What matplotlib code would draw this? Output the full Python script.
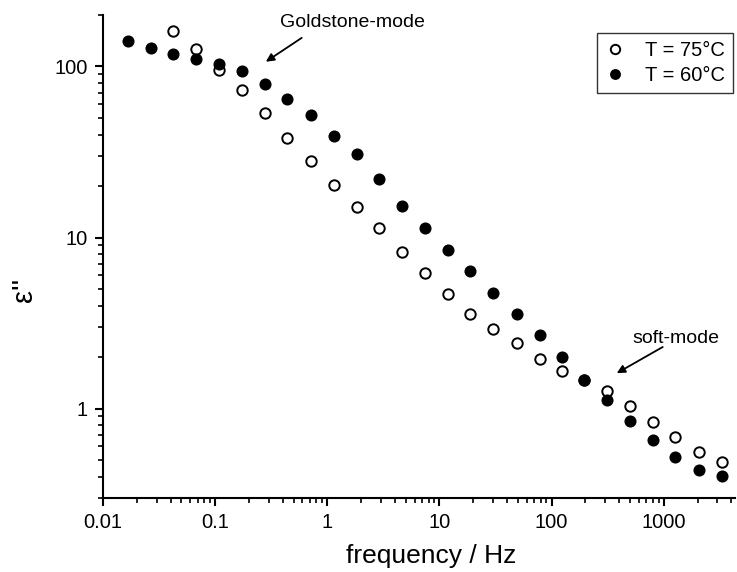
import matplotlib
matplotlib.use("Agg")
import matplotlib.pyplot as plt
import matplotlib.ticker as ticker

plt.rcParams.update({
    "font.family": ["Liberation Sans", "DejaVu Sans"],
    "font.size": 14,
    "axes.linewidth": 1.5,
    "xtick.direction": "out", "ytick.direction": "out",
    "xtick.major.size": 6, "ytick.major.size": 6,
    "xtick.minor.size": 3.5, "ytick.minor.size": 3.5,
    "xtick.major.width": 1.5, "ytick.major.width": 1.5,
    "xtick.minor.width": 1.2, "ytick.minor.width": 1.2,
})

# frequency (Hz) and eps''
FREQ_60 = [0.0166, 0.0266, 0.042, 0.068, 0.108, 0.172, 0.277, 0.44, 0.71,
           1.14, 1.83, 2.9, 4.6, 7.4, 11.8, 18.9, 30, 49, 78, 123, 194,
           310, 500, 800, 1250, 2050, 3290]
EPS_60 = [141, 129, 119, 110, 104, 94.4, 79.2, 64.7, 52.2, 39.4, 30.8, 22.1,
          15.3, 11.4, 8.45, 6.34, 4.75, 3.58, 2.69, 2.00, 1.46, 1.12, 0.843,
          0.652, 0.518, 0.435, 0.401]

FREQ_75 = [0.042, 0.068, 0.108, 0.172, 0.277, 0.44, 0.71, 1.14, 1.83, 2.9,
           4.6, 7.4, 11.8, 18.9, 30, 49, 78, 123, 194, 310, 500, 800, 1250,
           2050, 3290]
EPS_75 = [162, 127, 95.7, 73.1, 53.6, 38.3, 28.0, 20.3, 15.1, 11.3, 8.23,
          6.17, 4.67, 3.58, 2.91, 2.41, 1.95, 1.66, 1.47, 1.26, 1.03, 0.839,
          0.682, 0.557, 0.487]

XTICKS = [0.01, 0.1, 1, 10, 100, 1000]
YTICKS = [1, 10, 100]

fig = plt.figure(figsize=(7.37, 5.72), dpi=100)
ax = fig.add_axes([0.1398, 0.1294, 0.8572, 0.8444])

ax.plot(FREQ_75, EPS_75, "o", ms=7.5, mfc="white", mec="black", mew=1.4,
        label="T = 75°C", zorder=2)
ax.plot(FREQ_60, EPS_60, "o", ms=8.7, mfc="black", mec="black", mew=0,
        label="T = 60°C", zorder=3)

ax.set_xscale("log")
ax.set_yscale("log")
ax.set_xlim(0.01, 4300)
ax.set_ylim(0.3, 200)
ax.set_xticks(XTICKS)
ax.set_yticks(YTICKS)
fmt = ticker.FuncFormatter(lambda v, _: f"{v:g}")
ax.xaxis.set_major_formatter(fmt)
ax.yaxis.set_major_formatter(fmt)
ax.xaxis.set_minor_formatter(ticker.NullFormatter())
ax.yaxis.set_minor_formatter(ticker.NullFormatter())
ax.tick_params(which="major", labelsize=14.5, pad=5)

for side in ("top", "right"):
    ax.spines[side].set_visible(False)

ax.set_xlabel("frequency / Hz", fontsize=19)
ax.xaxis.set_label_coords(0.52, -0.095)
ax.text(-0.125, 0.43, "ε''", transform=ax.transAxes, rotation=90,
        fontsize=21, ha="center", va="center")

leg = ax.legend(loc="upper right", bbox_to_anchor=(0.997, 0.963),
                borderaxespad=0, frameon=True, fancybox=False,
                edgecolor="black", fontsize=14.5, handlelength=1.0,
                handletextpad=1.0, borderpad=0.4, labelspacing=0.3,
                markerscale=0.9)
leg.get_frame().set_linewidth(1.0)

arrow = dict(arrowstyle="-|>", color="black", lw=1.3, mutation_scale=12,
             shrinkA=0, shrinkB=0)
ax.annotate("", xy=(0.283, 106.6), xytext=(0.591, 147), arrowprops=arrow)
ax.text(1.69, 180, "Goldstone-mode", fontsize=14, ha="center", va="center")
ax.annotate("", xy=(381, 1.61), xytext=(979, 2.29), arrowprops=arrow)
ax.text(1279, 2.58, "soft-mode", fontsize=14, ha="center", va="center")

fig.savefig("out.png", dpi=100)
